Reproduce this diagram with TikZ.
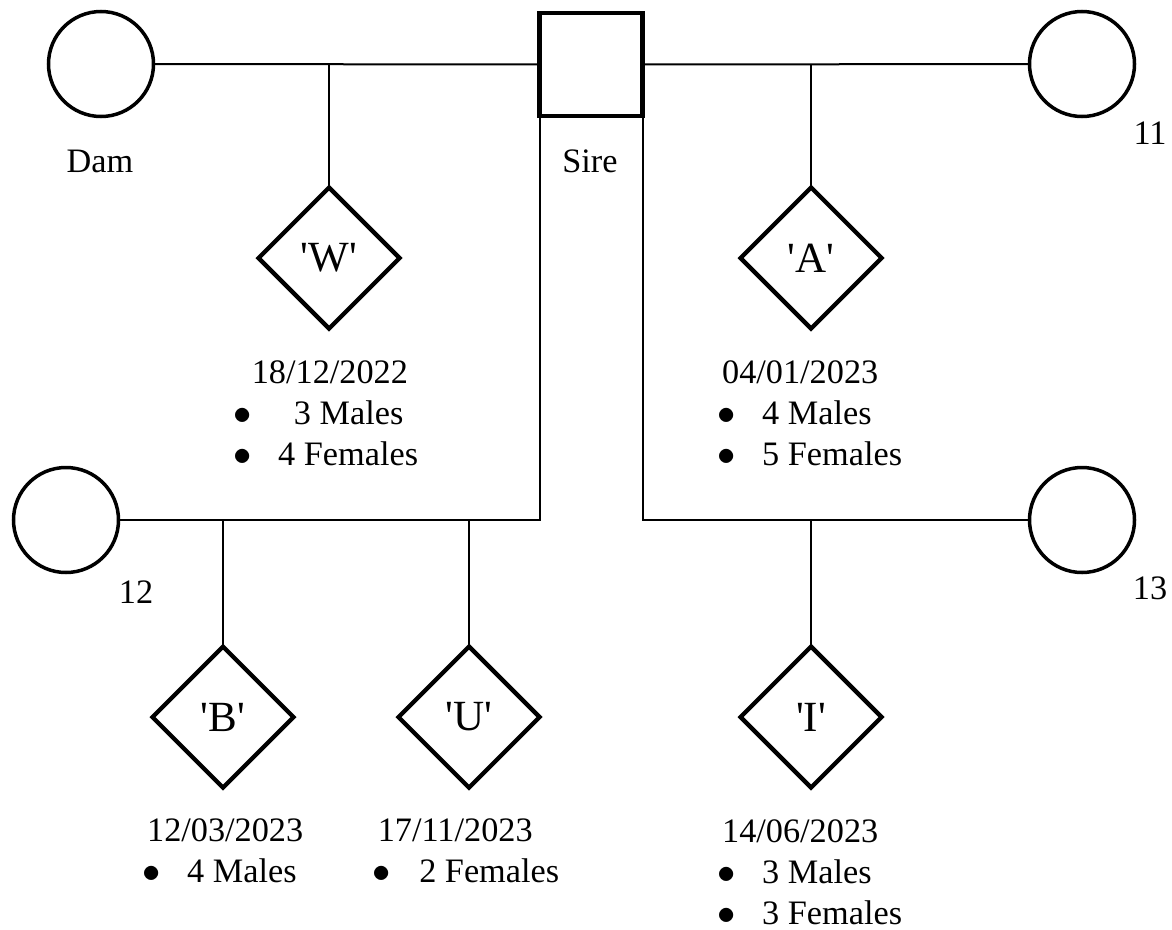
\documentclass[tikz,border=0pt]{standalone}
\usepackage{fontspec}
\setmainfont{Liberation Serif}
\usepackage{tikz}
\usetikzlibrary{shapes.geometric,positioning}

\newcommand{\pedfont}{\fontsize{19.5}{23.3}\selectfont}
\newcommand{\itm}[1][1.32em]{\makebox[#1][l]{$\bullet$}}
\newcommand{\litname}[1]{\textquotesingle#1\textquotesingle}

\begin{document}
\begin{tikzpicture}[
	x = 0.2mm, y = -0.2mm,
	font = \pedfont,
	every node/.style = {inner sep=0pt, outer sep=0pt},
	female/.style = {circle, draw, line width=0.7mm, minimum size=21mm},
	male/.style = {rectangle, draw, line width=0.95mm, minimum size=20.6mm},
	litter/.style = {diamond, draw, line width=0.85mm, minimum size=28.2mm,
		font=\fontsize{24.5}{29}\selectfont},
	info/.style = {align=left, anchor=base west},
	mating/.style = {line width=0.4mm}
	]
	\useasboundingbox (0,0) rectangle (1172,929);
	% parents
	\node[female] (dam) at (101,64) {};
	\node[male] (sire) at (591,64.5) {};
	\node[female] (f11) at (1082,64) {};
	\node[female] (f12) at (66,520) {};
	\node[female] (f13) at (1082,520) {};
	\node (damtag) at (100,161) {Dam};
	\node (siretag) at (590,161) {Sire};
	\node (tag11) at (1150,133) {11};
	\node (tag12) at (136,592) {12};
	\node (tag13) at (1150,588) {13};
	% litters (info nodes sit on the baseline of their last line)
	\node[litter] (W) at (329,258) {\litname{W}};
	\node[litter] (A) at (811,258) {\litname{A}};
	\node[litter] (B) at (223,717) {\litname{B}};
	\node[litter] (U) at (469,717) {\litname{U}};
	\node[litter] (I) at (811,717) {\litname{I}};
	\node[info] (infoW) at (233,465) {\hspace*{0.55em}18/12/2022\\\itm[1.78em]3 Males\\\itm 4 Females};
	\node[info] (infoA) at (717,465) {\hspace*{0.15em}04/01/2023\\\itm 4 Males\\\itm 5 Females};
	\node[info] (infoB) at (142,882) {\hspace*{0.15em}12/03/2023\\\itm 4 Males};
	\node[info] (infoU) at (372,882) {\hspace*{0.17em}17/11/2023\\\itm[1.38em]2 Females};
	\node[info] (infoI) at (717,924) {\hspace*{0.15em}14/06/2023\\\itm 3 Males\\\itm 3 Females};
	% matings
	\draw[mating] (dam) -- (sire);
	\draw[mating] (sire) -- (f11);
	\draw[mating] (sire.south west) |- (f12);
	\draw[mating] (sire.south east) |- (f13);
	\draw[mating] (W |- dam) -- (W);
	\draw[mating] (A |- f11) -- (A);
	\draw[mating] (B |- f12) -- (B);
	\draw[mating] (U |- f12) -- (U);
	\draw[mating] (I |- f13) -- (I);
\end{tikzpicture}
\end{document}
